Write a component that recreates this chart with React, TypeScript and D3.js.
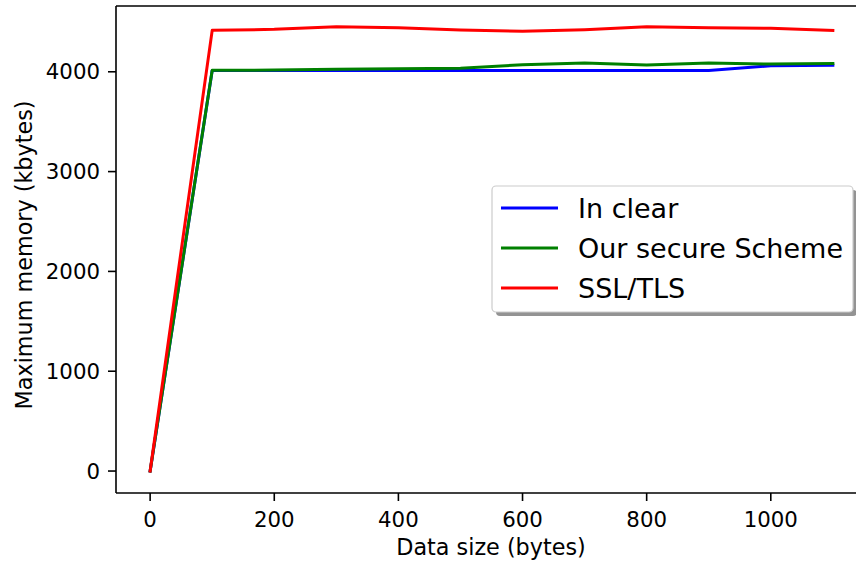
import React from "react";
import * as d3 from "d3";

const dataSizes = [0, 100, 200, 300, 400, 500, 600, 700, 800, 900, 1000, 1100];
const inClear = [0, 4012, 4012, 4012, 4012, 4012, 4012, 4012, 4012, 4012, 4060, 4065];
const secureScheme = [0, 4015, 4017, 4025, 4030, 4035, 4070, 4088, 4068, 4087, 4077, 4082];
const sslTls = [0, 4415, 4425, 4452, 4440, 4418, 4405, 4422, 4450, 4440, 4435, 4415];
const xTicks = [0, 200, 400, 600, 800, 1000];
const yTicks = [0, 1000, 2000, 3000, 4000];

const seriesNames = ["In clear", "Our secure Scheme", "SSL/TLS"];
const seriesColors = ["#0000ff", "#008000", "#ff0000"];
const seriesValues = [inClear, secureScheme, sslTls];

const W = 856;
const H = 562;
const left = 116;
const right = 867;
const top = 6;
const bottom = 493;
const FONT = "DejaVu Sans, sans-serif";

export default function App() {
  const x = d3.scaleLinear().domain([-55, 1155]).range([left, right]);
  const y = d3.scaleLinear().domain([-220, 4659]).range([bottom, top]);
  const line = d3
    .line<[number, number]>()
    .x((d) => x(d[0]))
    .y((d) => y(d[1]));

  const legX = 492;
  const legY = 186;
  const legW = 361;
  const legH = 126;
  const rowY = [208, 248, 288];

  return (
    <svg
      width={W}
      height={H}
      style={{ position: "absolute", left: 0, top: 0, background: "#fff" }}
      fontFamily={FONT}
    >
      <rect x={0} y={0} width={W} height={H} fill="#fff" />
      {seriesValues.map((vals, i) => (
        <path
          key={i}
          d={line(dataSizes.map((d, j) => [d, vals[j]] as [number, number])) || ""}
          fill="none"
          stroke={seriesColors[i]}
          strokeWidth={3}
          strokeLinejoin="round"
          strokeLinecap="square"
        />
      ))}
      {/* spines */}
      <line x1={left} x2={left} y1={top} y2={bottom} stroke="#000" strokeWidth={1.6} />
      <line x1={left} x2={right} y1={bottom} y2={bottom} stroke="#000" strokeWidth={1.6} />
      <line x1={left} x2={right} y1={top} y2={top} stroke="#000" strokeWidth={1.6} />
      <line x1={right} x2={right} y1={top} y2={bottom} stroke="#000" strokeWidth={1.6} />
      {/* x ticks */}
      {xTicks.map((t) => (
        <g key={t}>
          <line x1={x(t)} x2={x(t)} y1={bottom} y2={bottom + 8} stroke="#000" strokeWidth={1.6} />
          <text x={x(t)} y={527} textAnchor="middle" fontSize={21.3} fill="#000">
            {t}
          </text>
        </g>
      ))}
      {/* y ticks */}
      {yTicks.map((t) => (
        <g key={t}>
          <line x1={left - 8} x2={left} y1={y(t)} y2={y(t)} stroke="#000" strokeWidth={1.6} />
          <text x={100} y={y(t) + 7.7} textAnchor="end" fontSize={21.3} fill="#000">
            {t}
          </text>
        </g>
      ))}
      <text x={491} y={555} textAnchor="middle" fontSize={22.3} fill="#000">
        Data size (bytes)
      </text>
      <text
        transform={`translate(32, ${255}) rotate(-90)`}
        textAnchor="middle"
        fontSize={22.3}
        fill="#000"
      >
        Maximum memory (kbytes)
      </text>
      {/* legend */}
      <rect x={legX + 4} y={legY + 4} width={legW} height={legH} rx={4} fill="#808080" opacity={0.85} />
      <rect x={legX} y={legY} width={legW} height={legH} rx={4} fill="#fff" stroke="#cccccc" strokeWidth={1.2} />
      {seriesNames.map((n, i) => (
        <g key={n}>
          <line x1={501} x2={558} y1={rowY[i]} y2={rowY[i]} stroke={seriesColors[i]} strokeWidth={3} />
          <text x={578} y={rowY[i] + 9.5} fontSize={27} fill="#000">
            {n}
          </text>
        </g>
      ))}
    </svg>
  );
}
